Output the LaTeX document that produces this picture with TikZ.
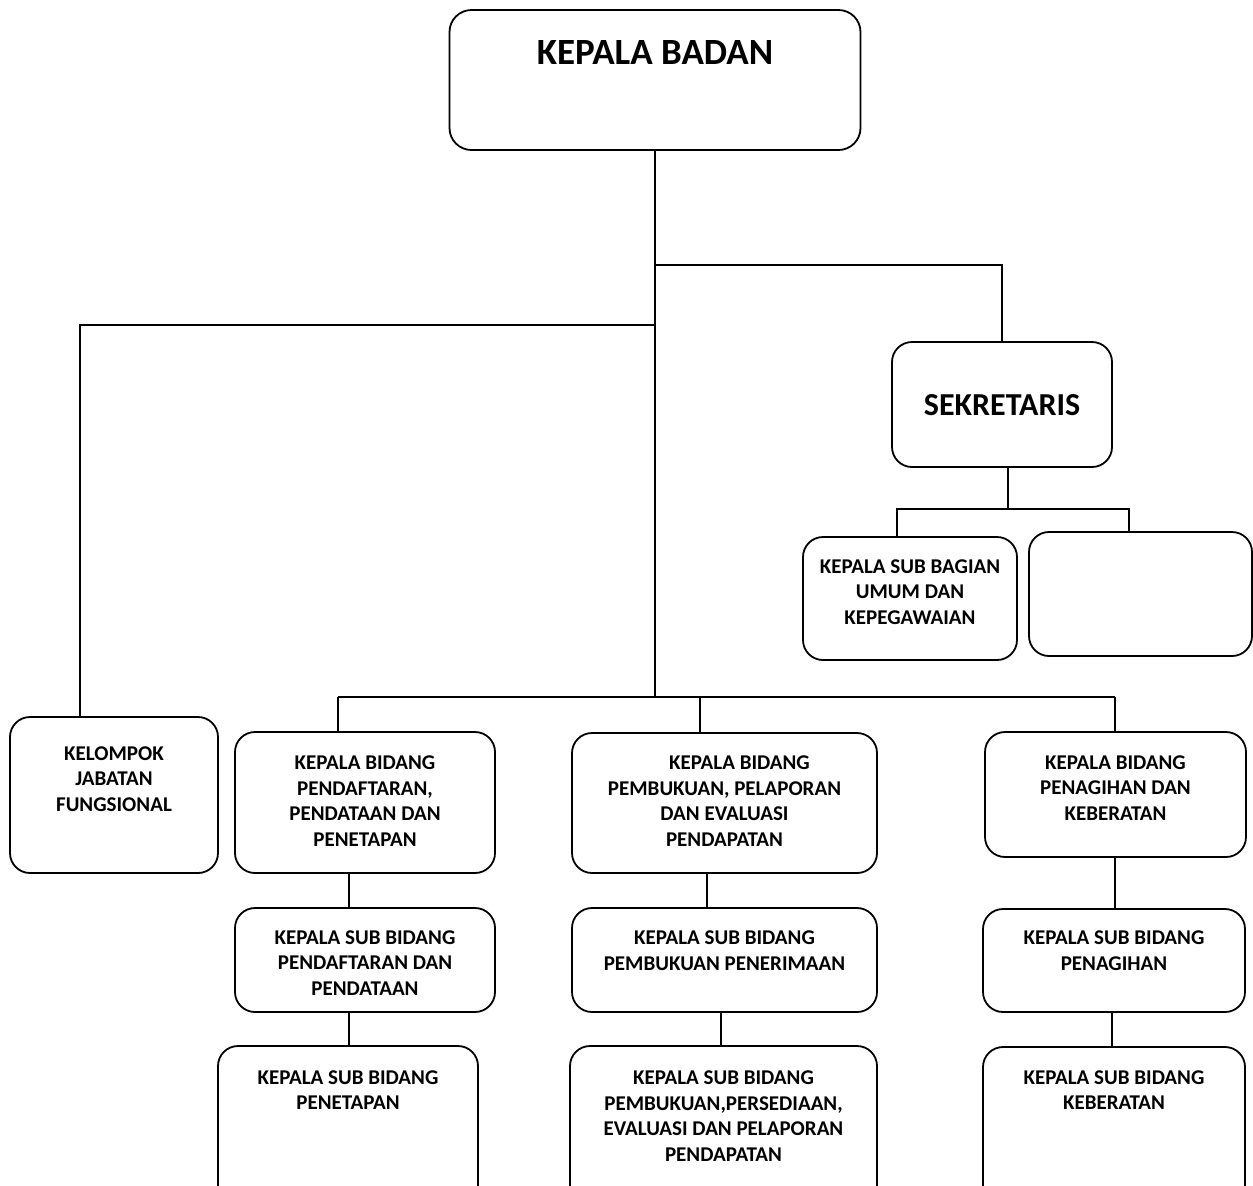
\documentclass[tikz,border=0pt]{standalone}
\usepackage{fontspec}
\setmainfont{Carlito}
\usepackage{tikz}
\usetikzlibrary{positioning}

\begin{document}
\begin{tikzpicture}[
    x=0.5pt, y=-0.5pt,
    box/.style={rectangle, draw, rounded corners=10pt, line width=0.9pt, inner sep=0pt},
    teks/.style={align=center, inner sep=0pt, font=\bfseries\fontsize{10.5}{12.9}\selectfont},
    judul/.style={align=center, inner sep=0pt, font=\bfseries\fontsize{18.5}{20}\selectfont},
    conn/.style={line width=0.9pt}
]
\clip (0,0) rectangle (1253,1185);

% PIMPINAN
\node[box, rounded corners=11pt, minimum width=205.5pt, minimum height=70pt] (A) at (655,80) {};
\node[judul] (tA) at (655,52) {KEPALA BADAN};

% SEKRETARIAT
\node[box, minimum width=110pt, minimum height=62.5pt] (B) at (1002,404.5) {};
\node[judul, font=\bfseries\fontsize{16}{18}\selectfont] (tB) at (1002,405) {SEKRETARIS};
\node[box, minimum width=107pt, minimum height=61.5pt] (C) at (910,598.5) {};
\node[teks] (tC) at (910,592) {KEPALA SUB BAGIAN\\UMUM DAN\\KEPEGAWAIAN};
\node[box, minimum width=111.5pt, minimum height=62pt] (D) at (1140.5,594) {};

% FUNGSIONAL DAN BIDANG
\node[box, minimum width=104pt, minimum height=78pt] (E) at (114,795) {};
\node[teks] (tE) at (114,779) {KELOMPOK\\JABATAN\\FUNGSIONAL};
\node[box, minimum width=130pt, minimum height=70.5pt] (F) at (365,802.5) {};
\node[teks] (tF) at (365,801) {KEPALA BIDANG\\PENDAFTARAN,\\PENDATAAN DAN\\PENETAPAN};
\node[box, minimum width=152.5pt, minimum height=70pt] (G) at (724.5,803) {};
\node[teks] (tG) at (724.5,801) {\hspace*{15pt}KEPALA BIDANG\\PEMBUKUAN, PELAPORAN\\DAN EVALUASI\\PENDAPATAN};
\node[box, minimum width=130.5pt, minimum height=62.5pt] (H) at (1115.5,794.5) {};
\node[teks] (tH) at (1115.5,788) {KEPALA BIDANG\\PENAGIHAN DAN\\KEBERATAN};

% SUB BIDANG
\node[box, minimum width=130pt, minimum height=52pt] (I) at (365,960) {};
\node[teks] (tI) at (365,963) {KEPALA SUB BIDANG\\PENDAFTARAN DAN\\PENDATAAN};
\node[box, minimum width=152.5pt, minimum height=52pt] (J) at (724.5,960) {};
\node[teks] (tJ) at (724.5,951) {KEPALA SUB BIDANG\\PEMBUKUAN PENERIMAAN};
\node[box, minimum width=131pt, minimum height=51.5pt] (K) at (1114,960.5) {};
\node[teks] (tK) at (1114,951) {KEPALA SUB BIDANG\\PENAGIHAN};

\node[box, minimum width=130pt, minimum height=80pt] (L) at (348,1126) {};
\node[teks] (tL) at (348,1090) {KEPALA SUB BIDANG\\PENETAPAN};
\node[box, minimum width=153.5pt, minimum height=80pt] (M) at (723.5,1126) {};
\node[teks] (tM) at (723.5,1116) {KEPALA SUB BIDANG\\PEMBUKUAN,PERSEDIAAN,\\EVALUASI DAN PELAPORAN\\PENDAPATAN};
\node[box, minimum width=131pt, minimum height=80pt] (N) at (1114,1127) {};
\node[teks] (tN) at (1114,1090) {KEPALA SUB BIDANG\\KEBERATAN};

% Titik cabang
\coordinate (J1) at (655,265);
\coordinate (J2) at (655,325);
\coordinate (J3) at (655,697);
\coordinate (K1) at (80,325);
\coordinate (L1) at (338,697);
\coordinate (L2) at (700,697);
\coordinate (L3) at (1115,697);
\coordinate (S0) at (1008,509);
\coordinate (S1) at (897,509);
\coordinate (S2) at (1129,509);
\coordinate (V1) at (349,0);
\coordinate (V2) at (707,0);
\coordinate (V3) at (721,0);
\coordinate (V4) at (1115,0);
\coordinate (V5) at (1112,0);

% Garis utama
\draw[conn] (A.south) -- (J3);
\draw[conn] (J1) -| (B.north);
\draw[conn] (J2) -- (K1) -- (K1 |- E.north);
\draw[conn] (L1) -- (L3);
\draw[conn] (L1) -- (L1 |- F.north);
\draw[conn] (L2) -- (L2 |- G.north);
\draw[conn] (L3) -- (L3 |- H.north);

% Sekretariat
\draw[conn] (S0 |- B.south) -- (S0);
\draw[conn] (S1 |- C.north) -- (S1) -- (S2) -- (S2 |- D.north);

% Bidang ke sub bidang
\draw[conn] (V1 |- F.south) -- (V1 |- I.north);
\draw[conn] (V1 |- I.south) -- (V1 |- L.north);
\draw[conn] (V2 |- G.south) -- (V2 |- J.north);
\draw[conn] (V3 |- J.south) -- (V3 |- M.north);
\draw[conn] (V4 |- H.south) -- (V4 |- K.north);
\draw[conn] (V5 |- K.south) -- (V5 |- N.north);

\end{tikzpicture}
\end{document}
